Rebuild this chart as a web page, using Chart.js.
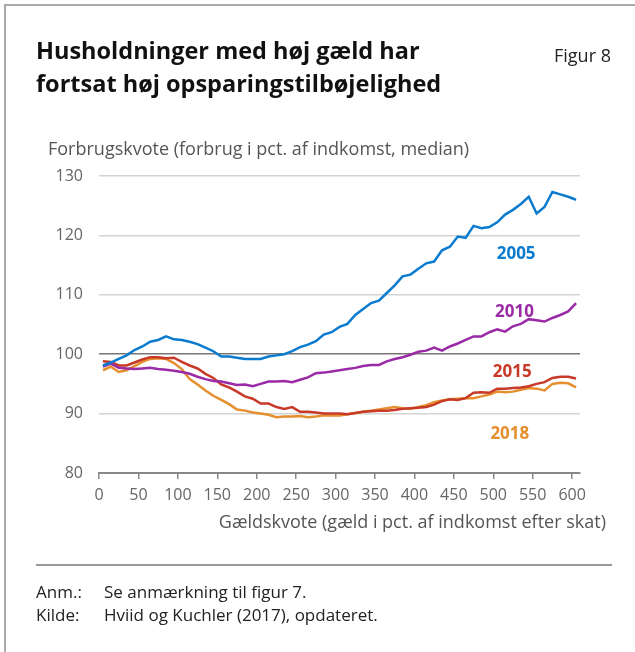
<!DOCTYPE html>
<html>
<head>
<meta charset="utf-8">
<script src="https://cdn.jsdelivr.net/npm/chart.js@4.4.1/dist/chart.umd.min.js"></script>
<style>
  body { margin: 0; background: #fff; font-family: "Open Sans", "Noto Sans", sans-serif; }
  #wrap { position: relative; width: 635px; height: 652px; overflow: hidden; }
  #frame { position: absolute; left: 4px; top: 4px; width: 640px; height: 660px; border-top: 2px solid #aaa; border-left: 2px solid #aaa; }
  #chart { position: absolute; left: 0; top: 0; }
  .t { position: absolute; white-space: nowrap; }
  #title { left: 36px; top: 34px; font-weight: bold; font-size: 23.5px; line-height: 33px; color: #111; }
  #fig { left: 554px; top: 43px; font-size: 18px; line-height: 24px; color: #222; }
  #ytitle { left: 48px; top: 136px; font-size: 18px; line-height: 24px; color: #555; }
  #xtitle { right: 29px; top: 509px; font-size: 18px; line-height: 24px; color: #555; }
  #sep { position: absolute; left: 36px; top: 564px; width: 576px; height: 2px; background: #999; }
  .note { font-size: 17px; line-height: 23px; color: #222; }
</style>
</head>
<body>
<div id="wrap">
  <div id="frame"></div>
  <canvas id="chart" width="635" height="652"></canvas>
  <div class="t" id="title">Husholdninger med høj gæld har<br>fortsat høj opsparingstilbøjelighed</div>
  <div class="t" id="fig">Figur 8</div>
  <div class="t" id="ytitle">Forbrugskvote (forbrug i pct. af indkomst, median)</div>
  <div class="t" id="xtitle">Gældskvote (gæld i pct. af indkomst efter skat)</div>
  <div id="sep"></div>
  <div class="t note" style="left:36px; top:580px;">Anm.:</div>
  <div class="t note" style="left:104px; top:580px;">Se anmærkning til figur 7.</div>
  <div class="t note" style="left:36px; top:603px;">Kilde:</div>
  <div class="t note" style="left:104px; top:603px;">Hviid og Kuchler (2017), opdateret.</div>
</div>
<script>
// Gældskvote (x)
const gaeldskvote = [5, 15, 25, 35, 45, 55, 65, 75, 85, 95, 105, 115, 125, 135, 145, 155, 165, 175, 185, 195,
  205, 215, 225, 235, 245, 255, 265, 275, 285, 295, 305, 315, 325, 335, 345, 355, 365, 375, 385, 395,
  405, 415, 425, 435, 445, 455, 465, 475, 485, 495, 505, 515, 525, 535, 545, 555, 565, 575, 585, 595, 605];

// Forbrugskvote per årgang
const v2005 = [98.1, 98.6, 99.2, 99.8, 100.7, 101.3, 102.1, 102.4, 103.0, 102.5, 102.4, 102.1, 101.7, 101.1, 100.5, 99.6, 99.6, 99.4, 99.2, 99.2,
  99.2, 99.6, 99.8, 100.0, 100.5, 101.2, 101.6, 102.2, 103.3, 103.7, 104.6, 105.1, 106.6, 107.6, 108.6, 109.0, 110.3, 111.6, 113.1, 113.4,
  114.4, 115.3, 115.6, 117.5, 118.1, 119.8, 119.6, 121.6, 121.2, 121.4, 122.2, 123.5, 124.3, 125.3, 126.5, 123.7, 124.8, 127.3, 126.9, 126.5, 126.0];
const v2010 = [97.9, 98.4, 97.7, 97.6, 97.5, 97.6, 97.7, 97.5, 97.4, 97.2, 97.0, 96.7, 96.2, 95.8, 95.5, 95.4, 95.1, 94.8, 94.9, 94.6,
  95.0, 95.4, 95.4, 95.5, 95.3, 95.7, 96.1, 96.8, 96.9, 97.1, 97.3, 97.5, 97.7, 98.0, 98.2, 98.2, 98.8, 99.2, 99.5, 99.9,
  100.4, 100.6, 101.1, 100.6, 101.3, 101.8, 102.4, 103.0, 103.0, 103.7, 104.2, 103.8, 104.7, 105.1, 105.9, 105.7, 105.5, 106.1, 106.6, 107.2, 108.6];
const v2015 = [98.8, 98.7, 98.1, 98.1, 98.6, 99.1, 99.5, 99.5, 99.3, 99.4, 98.7, 98.1, 97.6, 96.7, 96.0, 94.9, 94.4, 93.7, 92.9, 92.5,
  91.7, 91.7, 91.1, 90.8, 91.1, 90.3, 90.3, 90.2, 90.0, 90.0, 90.0, 89.9, 90.1, 90.3, 90.4, 90.5, 90.5, 90.6, 90.8, 90.9,
  91.0, 91.1, 91.5, 92.1, 92.4, 92.3, 92.6, 93.5, 93.6, 93.5, 94.2, 94.2, 94.3, 94.4, 94.6, 95.0, 95.3, 96.0, 96.2, 96.2, 95.9];
const v2018 = [97.3, 97.9, 97.0, 97.3, 98.0, 98.7, 99.2, 99.3, 99.2, 98.5, 97.5, 95.8, 94.9, 93.9, 93.0, 92.3, 91.6, 90.7, 90.5, 90.2,
  90.0, 89.8, 89.4, 89.5, 89.5, 89.6, 89.4, 89.5, 89.7, 89.7, 89.7, 89.9, 90.1, 90.3, 90.5, 90.7, 90.9, 91.1, 90.9, 90.8,
  91.1, 91.4, 91.9, 92.2, 92.4, 92.5, 92.6, 92.6, 92.9, 93.2, 93.7, 93.6, 93.7, 94.0, 94.3, 94.2, 93.9, 95.0, 95.2, 95.1, 94.4];

const aargange = ["2005", "2010", "2015", "2018"];
const yTicks = [80, 90, 100, 110, 120, 130];
const xTicks = [0, 50, 100, 150, 200, 250, 300, 350, 400, 450, 500, 550, 600];

const farver = { "2005": "#0a7bcf", "2010": "#9a2aa5", "2015": "#c83a28", "2018": "#e68f2e" };
// placering af årstal-etiketter (i akse-enheder)
const etiketter = [
  { tekst: "2005", x: 529, y: 116.9 },
  { tekst: "2010", x: 527, y: 107.0 },
  { tekst: "2015", x: 524, y: 96.9 },
  { tekst: "2018", x: 521, y: 86.5 }
];

function serie(values) {
  return gaeldskvote.map((x, i) => ({ x: x, y: values[i] }));
}

const datasets = [v2005, v2010, v2015, v2018].map((v, i) => ({
  label: aargange[i],
  data: serie(v),
  borderColor: farver[aargange[i]],
  borderWidth: 2.5,
  pointRadius: 0,
  tension: 0,
  fill: false
}));

// Tegn årstal ved kurverne
const etiketPlugin = {
  id: "etiketter",
  afterDatasetsDraw(chart) {
    const ctx = chart.ctx;
    ctx.save();
    ctx.font = "bold 17px 'Open Sans', sans-serif";
    ctx.textAlign = "center";
    ctx.textBaseline = "middle";
    etiketter.forEach(e => {
      ctx.fillStyle = farver[e.tekst];
      ctx.fillText(e.tekst, chart.scales.x.getPixelForValue(e.x), chart.scales.y.getPixelForValue(e.y));
    });
    ctx.restore();
  }
};

new Chart(document.getElementById("chart"), {
  type: "line",
  data: { datasets: datasets },
  options: {
    responsive: false,
    animation: false,
    layout: { padding: { left: 0, top: 176, right: 55, bottom: 0 } },
    plugins: { legend: { display: false }, tooltip: { enabled: false } },
    scales: {
      x: {
        type: "linear",
        min: 0,
        max: 610,
        afterBuildTicks: s => { s.ticks = xTicks.map(v => ({ value: v })); },
        afterFit: s => { s.height = 179; },
        ticks: { color: "#666", font: { size: 16, family: "'Open Sans', sans-serif" }, padding: 7, maxRotation: 0 },
        grid: { drawOnChartArea: false, drawTicks: true, tickLength: 6, color: "#888", lineWidth: 1.5 },
        border: { display: true, color: "#888", width: 2 }
      },
      y: {
        min: 80,
        max: 130,
        afterBuildTicks: s => { s.ticks = yTicks.map(v => ({ value: v })); },
        afterFit: s => { s.width = 99; },
        ticks: { color: "#666", font: { size: 16, family: "'Open Sans', sans-serif" }, padding: 16 },
        grid: {
          drawTicks: false,
          color: c => c.tick.value === 100 ? "#777" : "#d4d4d4",
          lineWidth: 1.5
        },
        border: { display: false }
      }
    }
  },
  plugins: [etiketPlugin]
});
</script>
</body>
</html>
